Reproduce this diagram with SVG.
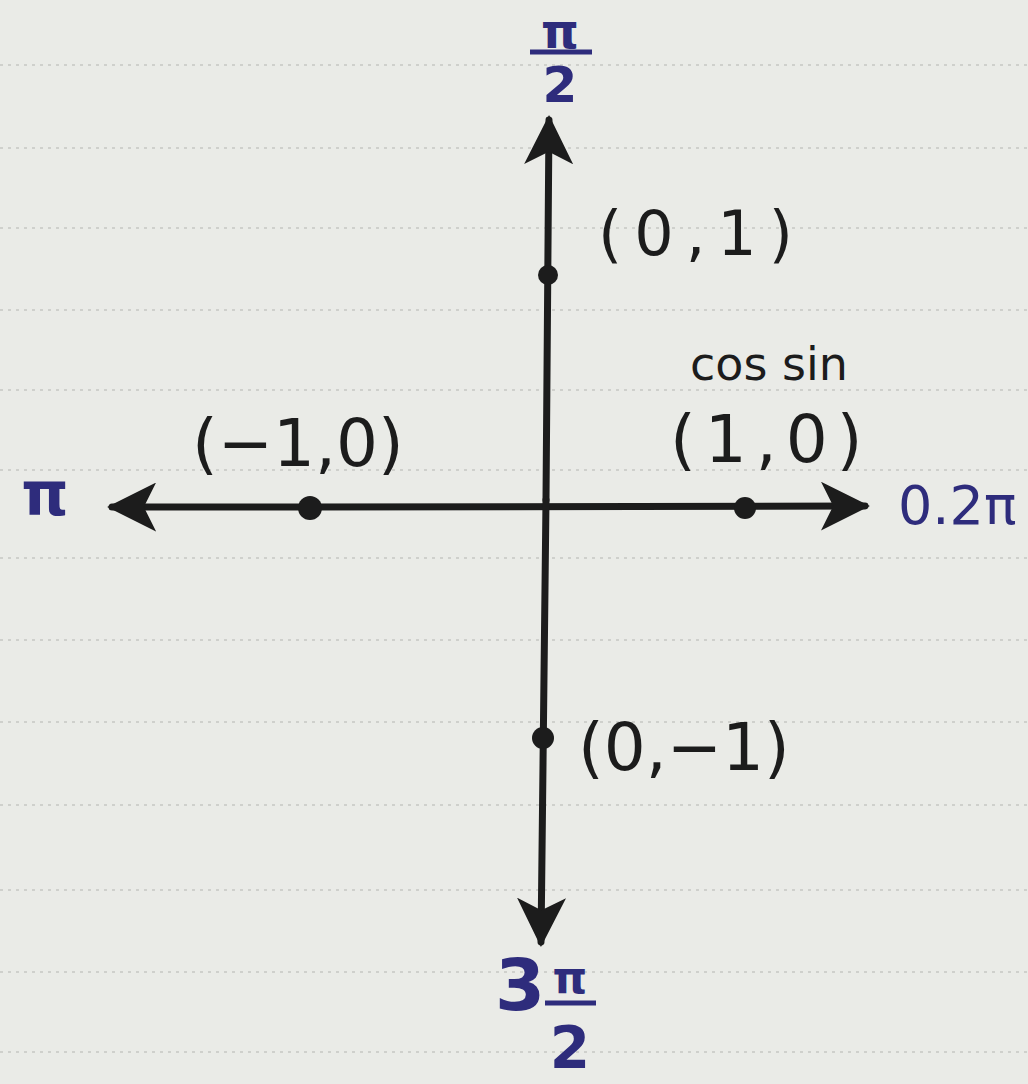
<svg xmlns="http://www.w3.org/2000/svg" width="1028" height="1084" viewBox="0 0 1028 1084">
<style>
.ink{font-family:"DejaVu Sans","Liberation Sans",sans-serif;fill:#1c1c1c}
.blue{font-family:"DejaVu Sans","Liberation Sans",sans-serif;fill:#2e2c7c}
.rule{stroke:#cfd0cc;stroke-width:2;stroke-dasharray:3 5}
.axis{stroke:#1c1c1c;stroke-width:7;fill:none;stroke-linecap:round}
.dot{fill:#1c1c1c}
.bar{stroke:#2e2c7c;stroke-width:5}
</style>
<defs>
<marker id="ah" viewBox="0 0 10 10" refX="9" refY="5" markerWidth="7" markerHeight="7" markerUnits="strokeWidth" orient="auto">
<path d="M0,0 L10,5 L0,10 L2.5,5 Z" fill="#1c1c1c"/>
</marker>
</defs>
<rect width="1028" height="1084" fill="#eaebe7"/>
<g id="paper-lines">
<line class="rule" x1="0" y1="65" x2="1028" y2="65"/>
<line class="rule" x1="0" y1="148" x2="1028" y2="148"/>
<line class="rule" x1="0" y1="228" x2="1028" y2="228"/>
<line class="rule" x1="0" y1="310" x2="1028" y2="310"/>
<line class="rule" x1="0" y1="390" x2="1028" y2="390"/>
<line class="rule" x1="0" y1="470" x2="1028" y2="470"/>
<line class="rule" x1="0" y1="558" x2="1028" y2="558"/>
<line class="rule" x1="0" y1="640" x2="1028" y2="640"/>
<line class="rule" x1="0" y1="722" x2="1028" y2="722"/>
<line class="rule" x1="0" y1="805" x2="1028" y2="805"/>
<line class="rule" x1="0" y1="890" x2="1028" y2="890"/>
<line class="rule" x1="0" y1="972" x2="1028" y2="972"/>
<line class="rule" x1="0" y1="1052" x2="1028" y2="1052"/>
</g>
<g id="connectors">
<line class="axis" x1="310" y1="507" x2="112" y2="507" marker-end="url(#ah)"/>
<line class="axis" x1="310" y1="507" x2="865" y2="506" marker-end="url(#ah)"/>
<line class="axis" x1="546" y1="500" x2="549" y2="120" marker-end="url(#ah)"/>
<line class="axis" x1="546" y1="500" x2="541" y2="942" marker-end="url(#ah)"/>
</g>
<g id="point-0-1"><circle class="dot" cx="548" cy="275" r="10"/><text class="ink" x="598" y="255" font-size="62" letter-spacing="12">(0,1)</text></g>
<g id="point-1-0"><circle class="dot" cx="745" cy="508" r="11"/><text class="ink" x="690" y="380" font-size="46">cos sin</text><text class="ink" x="670" y="462" font-size="66" letter-spacing="9">(1,0)</text></g>
<g id="point-m1-0"><circle class="dot" cx="310" cy="508" r="12"/><text class="ink" x="192" y="466" font-size="66">(−1,0)</text></g>
<g id="point-0-m1"><circle class="dot" cx="543" cy="738" r="11"/><text class="ink" x="578" y="770" font-size="66">(0,−1)</text></g>
<g id="label-top"><text class="blue" x="560" y="48" font-size="48" text-anchor="middle" font-weight="bold">π</text><line class="bar" x1="530" y1="52" x2="592" y2="52"/><text class="blue" x="560" y="102" font-size="50" text-anchor="middle" font-weight="bold">2</text></g>
<g id="label-left"><text class="blue" x="45" y="515" font-size="60" text-anchor="middle" font-weight="bold">π</text></g>
<g id="label-right"><text class="blue" x="898" y="524" font-size="54">0.2π</text></g>
<g id="label-bottom"><text class="blue" x="520" y="1010" font-size="72" text-anchor="middle" font-weight="bold">3</text><text class="blue" x="570" y="993" font-size="44" text-anchor="middle" font-weight="bold">π</text><line class="bar" x1="545" y1="1003" x2="596" y2="1003"/><text class="blue" x="570" y="1068" font-size="58" text-anchor="middle" font-weight="bold">2</text></g>
</svg>
